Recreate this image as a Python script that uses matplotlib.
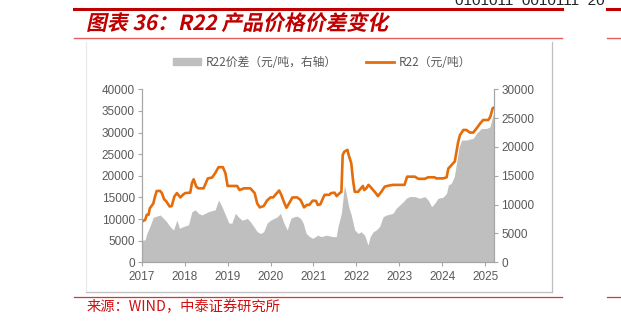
import matplotlib
matplotlib.use('Agg')
import matplotlib.pyplot as plt
from matplotlib.lines import Line2D
from matplotlib.patches import Patch, PathPatch
from matplotlib.textpath import TextPath
from matplotlib.font_manager import FontProperties
from matplotlib.transforms import Affine2D, IdentityTransform

plt.rcParams['font.family'] = ['Liberation Sans', 'Noto Sans CJK SC', 'DejaVu Sans']

# R22 price (yuan/t, left axis) - decimal year, value
r22_t = [2017.00, 2017.04, 2017.08, 2017.12, 2017.16, 2017.19, 2017.27, 2017.31, 2017.35,
         2017.43, 2017.47, 2017.52, 2017.58, 2017.65, 2017.70, 2017.76, 2017.82, 2017.90,
         2017.96, 2018.01, 2018.13, 2018.17, 2018.21, 2018.27, 2018.32, 2018.44, 2018.54,
         2018.64, 2018.71, 2018.79, 2018.89, 2018.95, 2019.00, 2019.22, 2019.28, 2019.38,
         2019.53, 2019.63, 2019.69, 2019.75, 2019.84, 2019.92, 2020.00, 2020.06, 2020.12,
         2020.20, 2020.25, 2020.31, 2020.37, 2020.43, 2020.51, 2020.62, 2020.70, 2020.78,
         2020.85, 2020.90, 2020.98, 2021.06, 2021.10, 2021.16, 2021.22, 2021.26, 2021.37,
         2021.41, 2021.49, 2021.54, 2021.61, 2021.65, 2021.68, 2021.72, 2021.79, 2021.82,
         2021.88, 2021.92, 2021.96, 2022.04, 2022.07, 2022.15, 2022.18, 2022.23, 2022.28,
         2022.32, 2022.39, 2022.45, 2022.50, 2022.58, 2022.66, 2022.74, 2022.85, 2023.12,
         2023.18, 2023.36, 2023.44, 2023.59, 2023.67, 2023.82, 2023.86, 2024.02, 2024.10,
         2024.14, 2024.18, 2024.25, 2024.29, 2024.33, 2024.37, 2024.41, 2024.49, 2024.56,
         2024.64, 2024.72, 2024.80, 2024.88, 2024.95, 2025.07, 2025.12, 2025.17, 2025.21]
r22_price = [9400, 9600, 9800, 11000, 11000, 12500, 13600, 15200, 16500,
             16500, 16000, 14600, 14000, 12900, 13000, 15200, 16000, 15000,
             15600, 16000, 16100, 18300, 19200, 17500, 17100, 17100, 19400,
             19600, 20600, 22000, 22000, 20600, 17650, 17650, 16700, 17100,
             17100, 16000, 13600, 12700, 13000, 14300, 15000, 15000, 15700,
             16600, 15600, 14000, 12600, 13600, 15000, 15000, 14400, 12700,
             13300, 13250, 14250, 14200, 13250, 13400, 14800, 15600, 15600,
             16000, 16100, 15300, 16000, 16300, 24800, 25600, 26000, 24800,
             22900, 19000, 16300, 16300, 16700, 17650, 16700, 17100, 17900,
             17500, 16700, 16000, 15300, 16300, 17500, 17700, 17900, 17900,
             19800, 19800, 19300, 19300, 19650, 19650, 19400, 19400, 19650,
             21700, 22100, 22900, 23300, 25600, 27900, 29400, 30600, 30600,
             30000, 30000, 31000, 32100, 32900, 32900, 33700, 35600, 35800]

# R22 spread (yuan/t, right axis)
spread_t = [2017.00, 2017.08, 2017.12, 2017.19, 2017.27, 2017.35, 2017.43, 2017.51, 2017.58,
            2017.66, 2017.74, 2017.82, 2017.88, 2017.97, 2018.09, 2018.17, 2018.25, 2018.32,
            2018.40, 2018.48, 2018.56, 2018.71, 2018.79, 2018.87, 2018.95, 2019.03, 2019.10,
            2019.18, 2019.26, 2019.34, 2019.46, 2019.53, 2019.61, 2019.69, 2019.77, 2019.84,
            2019.92, 2020.00, 2020.08, 2020.16, 2020.23, 2020.31, 2020.39, 2020.47, 2020.55,
            2020.62, 2020.70, 2020.76, 2020.83, 2020.91, 2020.98, 2021.10, 2021.18, 2021.30,
            2021.45, 2021.53, 2021.57, 2021.65, 2021.72, 2021.76, 2021.82, 2021.88, 2021.96,
            2022.04, 2022.11, 2022.19, 2022.27, 2022.32, 2022.39, 2022.46, 2022.54, 2022.62,
            2022.70, 2022.85, 2022.93, 2023.01, 2023.09, 2023.16, 2023.24, 2023.36, 2023.47,
            2023.59, 2023.67, 2023.75, 2023.82, 2023.90, 2024.02, 2024.10, 2024.14, 2024.21,
            2024.28, 2024.33, 2024.39, 2024.45, 2024.56, 2024.72, 2024.80, 2024.91, 2025.03,
            2025.11, 2025.17, 2025.21]
spread = [3800, 3900, 5000, 6200, 7800, 8000, 8200, 7600, 7050,
          6200, 5600, 7300, 5900, 6200, 6500, 8800, 9100, 8500,
          8200, 8500, 8800, 9100, 10800, 9650, 8200, 6800, 6800,
          8500, 7800, 7300, 7600, 7050, 6200, 5300, 5000, 5300,
          6800, 7300, 7600, 7900, 8500, 6800, 5600, 7600, 7900,
          8000, 7600, 6800, 5000, 4450, 4150, 4700, 4450, 4700,
          4450, 4450, 6200, 8500, 13400, 12000, 9650, 8200, 5600,
          5000, 5300, 4700, 3000, 4450, 5300, 5600, 6200, 7900,
          8200, 8500, 9400, 9950, 10500, 11100, 11400, 11400, 11100,
          11400, 10800, 9650, 10200, 11100, 11300, 12000, 13400, 13700,
          14900, 17200, 20000, 21200, 21200, 21500, 22400, 23200, 23200,
          23500, 25300, 26400]

years = [2017, 2018, 2019, 2020, 2021, 2022, 2023, 2024, 2025]
left_ticks = [0, 5000, 10000, 15000, 20000, 25000, 30000, 35000, 40000]
right_ticks = [0, 5000, 10000, 15000, 20000, 25000, 30000]

W, H = 621, 327
fig = plt.figure(figsize=(W / 100, H / 100), dpi=100)

def fx(px):
    return px / W

def fy(py):
    return 1 - py / H

red = '#C00000'
grey_txt = '#595959'
axis_col = '#A6A6A6'
cjk = ['Noto Sans CJK SC', 'DejaVu Sans']

# page header / footer lines
fig.add_artist(Line2D([fx(74), fx(562)], [fy(8.7), fy(8.7)], color=red, lw=2.2))
fig.add_artist(Line2D([fx(607), fx(621)], [fy(8.7), fy(8.7)], color=red, lw=2.2))
fig.add_artist(Line2D([fx(74), fx(562)], [fy(37.7), fy(37.7)], color='#E06060', lw=1.0))
fig.add_artist(Line2D([fx(607), fx(621)], [fy(37.7), fy(37.7)], color='#E06060', lw=1.0))
fig.add_artist(Line2D([fx(74), fx(562)], [fy(296.7), fy(296.7)], color='#E03030', lw=0.9))
fig.add_artist(Line2D([fx(607), fx(621)], [fy(296.7), fy(296.7)], color='#E03030', lw=0.9))
fig.text(fx(455), fy(1), '0101011  0010111  20', fontsize=11, color='#222222',
         ha='left', va='center')

# slanted (italic-looking) bold title drawn as a text path
title_path = TextPath((0, 0), '图表 36：R22 产品价格价差变化', size=15,
                      prop=FontProperties(family='Noto Sans CJK SC', weight='bold'))
title_tr = Affine2D().skew_deg(12, 0).scale(100 / 72).translate(86, H - 30)
fig.add_artist(PathPatch(title_path, transform=title_tr + IdentityTransform(),
                         facecolor=red, edgecolor='none'))

fig.text(fx(87), fy(307), '来源：WIND，中泰证券研究所', fontsize=10.3, color='#D01010',
         ha='left', va='center', family=cjk)

# chart frame
fig.add_artist(Line2D([fx(86), fx(86)], [fy(42), fy(292.3)], color='#E8E8E8', lw=0.8))
fig.add_artist(Line2D([fx(551.7), fx(551.7)], [fy(42), fy(292.3)], color='#BFBFBF', lw=0.9))
fig.add_artist(Line2D([fx(86), fx(551.7)], [fy(292.3), fy(292.3)], color='#BFBFBF', lw=0.9))

ax = fig.add_axes([fx(141.7), fy(262.3), fx(494.3) - fx(141.7), fy(89.3) - fy(262.3)])
ax2 = ax.twinx()
ax.set_zorder(ax2.get_zorder() + 1)
ax.patch.set_visible(False)

ax2.fill_between(spread_t, spread, 0, color='#BFBFBF', lw=0)
ax.plot(r22_t, r22_price, color='#E46C0A', lw=1.9, solid_joinstyle='round')

ax.set_xlim(2017, 2025.21)
ax.set_ylim(0, 40000)
ax2.set_ylim(0, 30000)
ax.set_xticks(years)
ax.set_xticklabels([str(y) for y in years])
ax.set_yticks(left_ticks)
ax2.set_yticks(right_ticks)

for a in (ax, ax2):
    for s in a.spines.values():
        s.set_color(axis_col)
        s.set_linewidth(0.8)
    a.spines['top'].set_visible(False)
    a.tick_params(colors=axis_col, labelcolor=grey_txt, labelsize=8.5, length=3, width=0.8)
ax.tick_params(axis='x', pad=3)
ax.tick_params(axis='y', pad=2)
ax2.tick_params(axis='y', pad=2)

handles = [Patch(color='#BFBFBF'), Line2D([], [], color='#E46C0A', lw=2)]
labels = ['R22价差（元/吨，右轴）', 'R22（元/吨）']
leg = fig.legend(handles, labels, loc='center', bbox_to_anchor=(fx(322), fy(62)),
                 ncol=2, frameon=False, handlelength=2.4, handleheight=0.6,
                 columnspacing=2.4, handletextpad=0.4,
                 prop={'family': cjk, 'size': 8.5})
for t in leg.get_texts():
    t.set_color(grey_txt)

fig.savefig('out.png', dpi=100)
